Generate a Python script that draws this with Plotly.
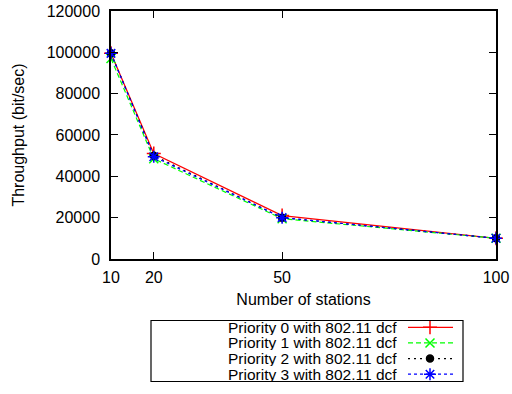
import plotly.graph_objects as go

stations = [10, 20, 50, 100]
prio0 = [99500, 51000, 21000, 10000]
prio1 = [97000, 48500, 19500, 10000]
prio2 = [99500, 50000, 20000, 10000]
prio3 = [99500, 49500, 20000, 10000]
names = ["Priority 0 with 802.11 dcf", "Priority 1 with 802.11 dcf",
         "Priority 2 with 802.11 dcf", "Priority 3 with 802.11 dcf"]
y_ticks = [0, 20000, 40000, 60000, 80000, 100000, 120000]

FONT = "Liberation Sans, Arial, sans-serif"
FS = 16
colors = ["#ff0000", "#00ff00", "#000000", "#0000ff"]
dashes = ["solid", "5px,3px", "2px,4px", "3px,3px"]
symbols = ["cross-thin", "x-thin", "circle", "asterisk"]
msizes = [10, 9, 7, 10]
series = [prio0, prio1, prio2, prio3]

fig = go.Figure()
for i in range(4):
    fig.add_trace(go.Scatter(
        x=stations, y=series[i], mode="lines+markers", name=names[i],
        line=dict(color=colors[i], width=1.2, dash=dashes[i]),
        marker=dict(symbol=symbols[i], size=msizes[i], color=colors[i],
                    line=dict(color=colors[i], width=1.5)),
        cliponaxis=False, showlegend=False))

# manual legend (text left, sample right) on a helper axis in pixel units
row_y = [335, 351, 367, 383]
for i in range(4):
    fig.add_trace(go.Scatter(
        x=[408, 453], y=[row_y[i], row_y[i]], mode="lines",
        line=dict(color=colors[i], width=1.2, dash=dashes[i]),
        xaxis="x2", yaxis="y2", showlegend=False, hoverinfo="skip"))
    fig.add_trace(go.Scatter(
        x=[430], y=[row_y[i]], mode="markers",
        marker=dict(symbol=symbols[i], size=msizes[i], color=colors[i],
                    line=dict(color=colors[i], width=1.5)),
        xaxis="x2", yaxis="y2", showlegend=False, hoverinfo="skip"))
    fig.add_annotation(x=398, y=row_y[i], xref="x2", yref="y2", text=names[i],
                       showarrow=False, xanchor="right", yanchor="middle",
                       height=15, valign="middle", borderpad=0,
                       font=dict(family=FONT, size=15.5, color="#000"))

fig.add_shape(type="rect", xref="x2", yref="y2", x0=151, x1=463, y0=328, y1=390.5,
              line=dict(color="#000", width=1.2))

axis_common = dict(showline=True, linecolor="#000", linewidth=1.5, mirror="ticks",
                   ticks="inside", ticklen=7, tickcolor="#000", tickwidth=1,
                   showgrid=False, zeroline=False,
                   tickfont=dict(family=FONT, size=FS, color="#000"))

fig.update_layout(
    width=512, height=394,
    margin=dict(l=111, r=16, t=11, b=3),
    paper_bgcolor="white", plot_bgcolor="white",
    font=dict(family=FONT, size=FS, color="#000"),
    xaxis=dict(range=[10, 100], tickvals=stations, domain=[0, 1],
               title=dict(text="Number of stations", font=dict(family=FONT, size=FS), standoff=9),
               ticklabelstandoff=3, **axis_common),
    yaxis=dict(range=[0, 120000], tickvals=y_ticks, ticktext=[str(v) for v in y_ticks],
               domain=[0.3316, 1],
               title=dict(text="Throughput (bit/sec)", font=dict(family=FONT, size=FS), standoff=18),
               ticklabelstandoff=6, **axis_common),
    xaxis2=dict(range=[111, 496], domain=[0, 1], anchor="y2", visible=False, fixedrange=True),
    yaxis2=dict(range=[391, 277], domain=[0, 0.3], anchor="x2", visible=False, fixedrange=True),
)

fig.write_html("out.html")
